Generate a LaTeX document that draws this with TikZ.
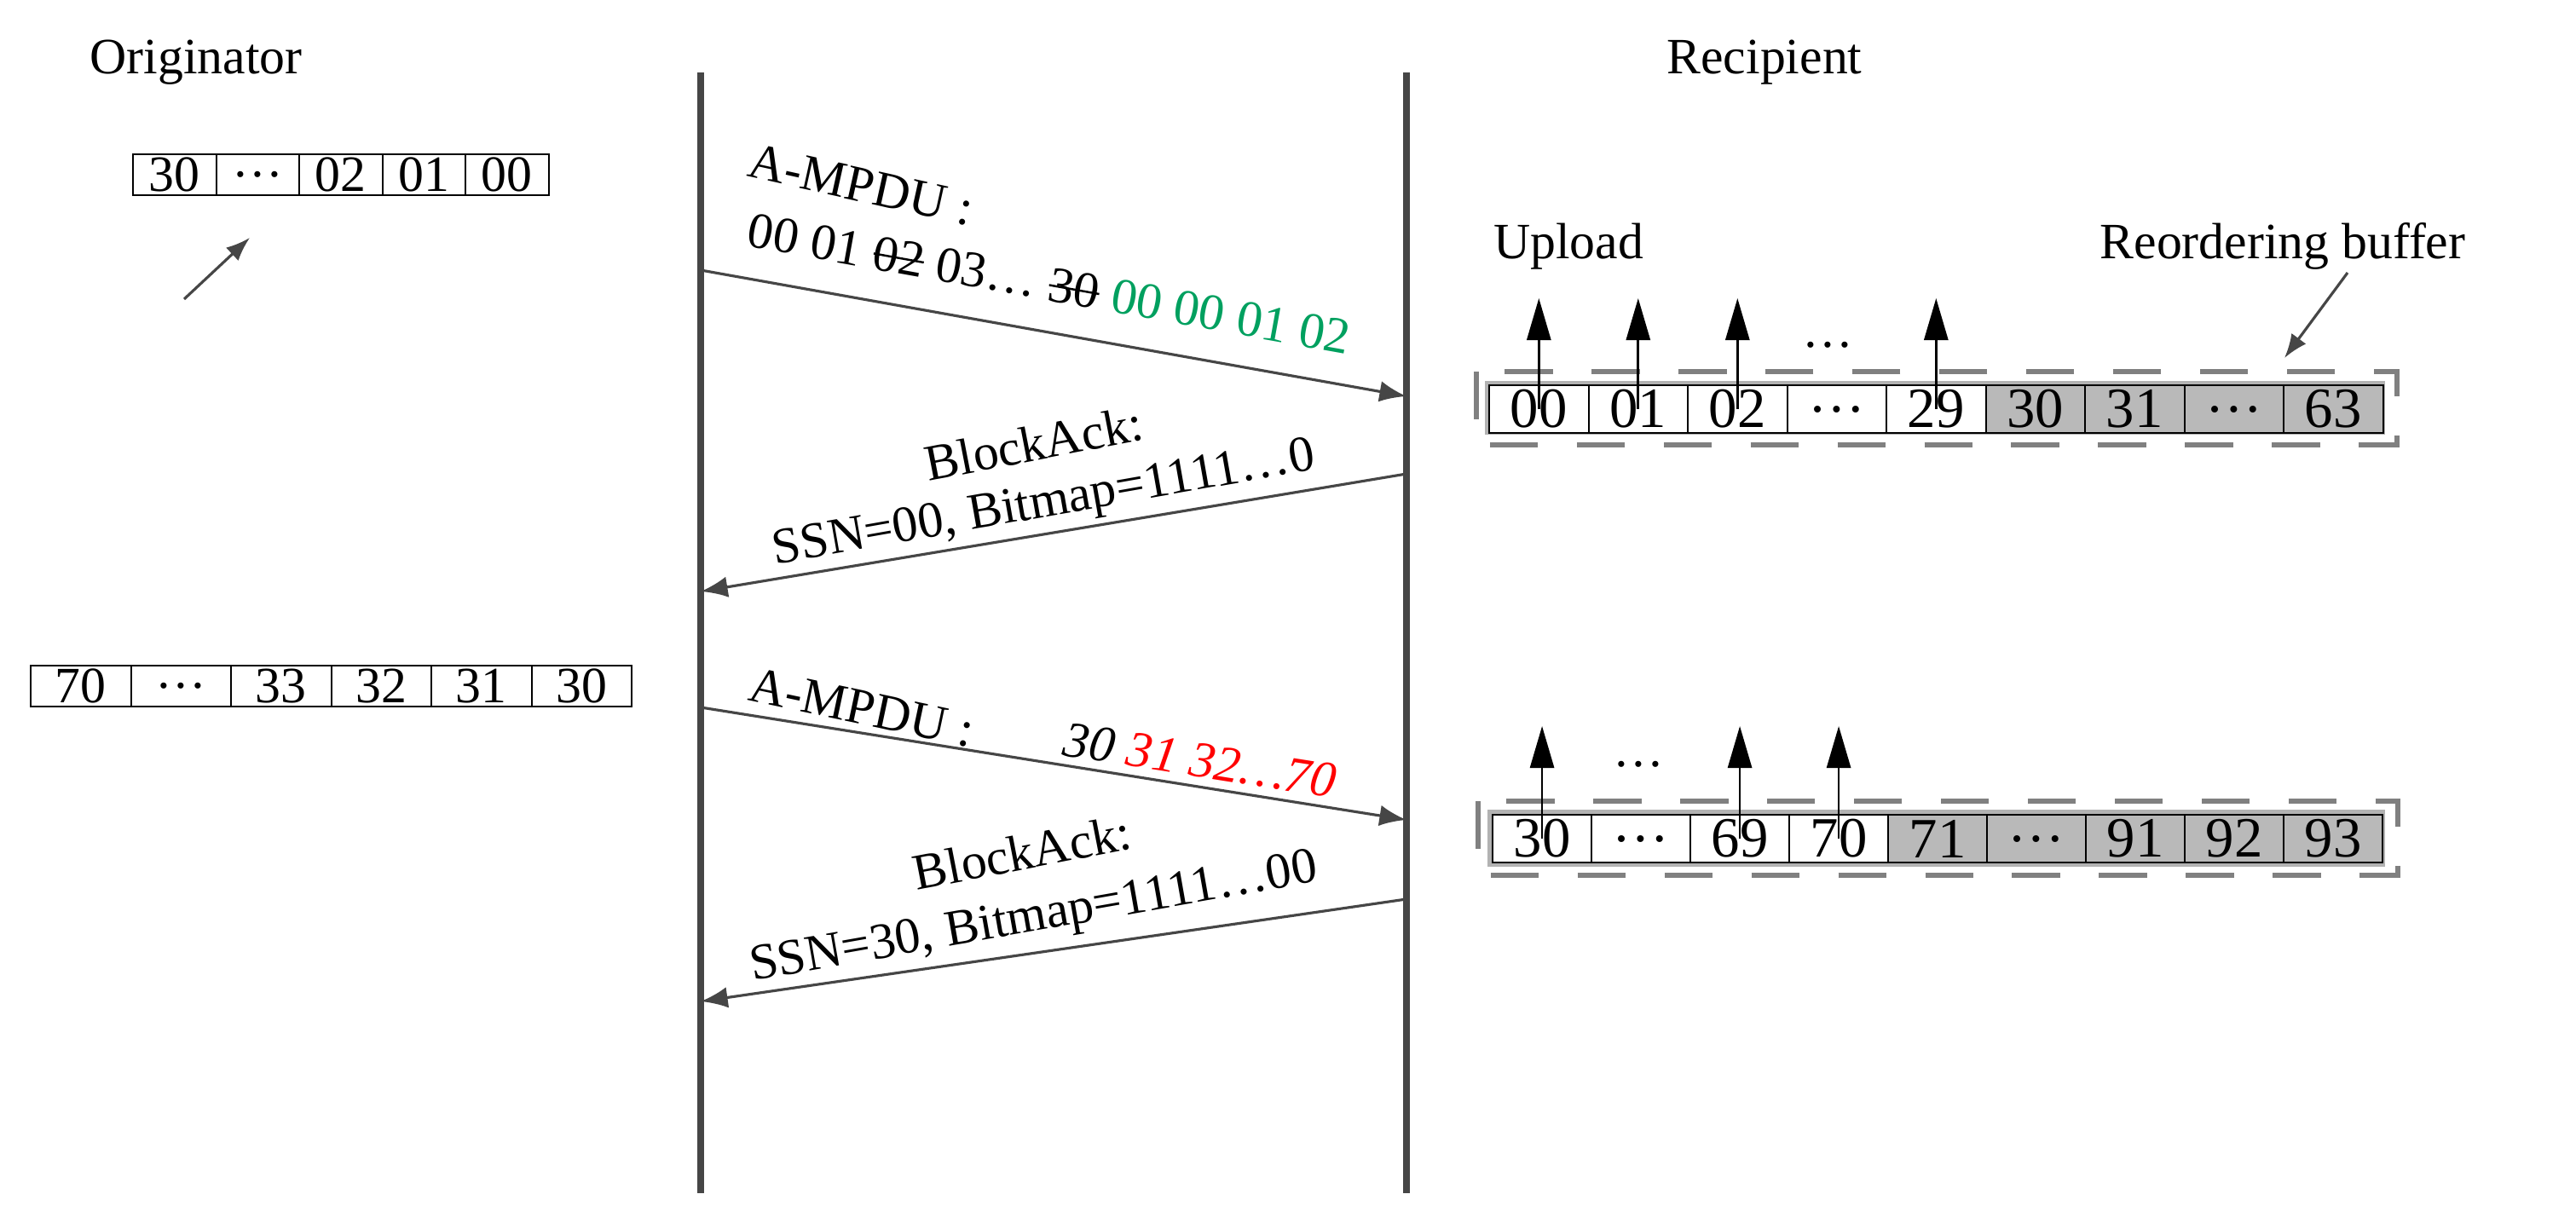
\documentclass[tikz,border=0pt]{standalone}
\usepackage{fontspec}
\setmainfont{Liberation Serif}
\usetikzlibrary{arrows.meta}
\definecolor{grn}{RGB}{0,160,95}
\definecolor{lin}{RGB}{70,70,70}
\newlength\mystkl
\newcommand\mystk[1]{\settowidth{\mystkl}{#1}\rlap{\rule[0.28em]{\mystkl}{0.7pt}}#1}
\begin{document}
\begin{tikzpicture}[x=1cm,y=1cm,
  every node/.style={font=\fontsize{17}{20}\selectfont},
  cell/.style={draw=black, line width=0.6pt, minimum height=0.48cm, inner sep=0pt, anchor=north west},
  rcell/.style={cell, minimum height=0.56cm, minimum width=1.165cm, font=\fontsize{19}{22}\selectfont},
  gcell/.style={rcell, fill=gray!55},
  wcell/.style={rcell, fill=white},
  dbox/.style={gray, line width=1.5pt, dash pattern=on 16pt off 13pt},
  life/.style={line width=2.2pt, draw=lin},
  msg/.style={line width=0.9pt, draw=lin, -{Latex[length=9pt,width=7pt]}},
  up/.style={line width=0.8pt, -{Triangle[length=14pt,width=8pt]}},
  lbl/.style={inner sep=0pt}]
\useasboundingbox (0,0) rectangle (30.22,14.35);
% headers
\node[lbl] (orig) at (2.3,13.62) {Originator};
\node[lbl] (reci) at (20.7,13.62) {Recipient};
% lifelines
\coordinate (lt) at (8.22,13.5); \coordinate (lb) at (8.22,0.35);
\coordinate (rt) at (16.5,13.5); \coordinate (rb) at (16.5,0.35);
\draw[life] (lt) -- (lb);
\draw[life] (rt) -- (rb);
% originator buffer 1
\foreach \t [count=\i from 0] in {30,\dots,02,01,00}
  \node[cell, minimum width=0.975cm] (oa\i) at (1.55+0.975*\i,12.55) {\t};
\coordinate (sa1) at (2.16,10.84); \coordinate (sa2) at (2.93,11.56);
\draw[line width=0.9pt, draw=lin, -{Latex[length=8pt,width=6pt]}] (sa1) -- (sa2);
% originator buffer 2
\foreach \t [count=\i from 0] in {70,\dots,33,32,31,30}
  \node[cell, minimum width=1.175cm] (ob\i) at (0.35+1.175*\i,6.55) {\t};
% messages
\coordinate (m1a) at (8.22,11.18); \coordinate (m1b) at (16.5,9.70);
\draw[msg] (m1a) -- (m1b);
\node[lbl, rotate=-12.5] (t1a) at (10.1,12.18) {A-MPDU :};
\node[lbl, rotate=-10.2] (t1b) at (12.31,11.02) {00 01 \mystk{02} 03\dots\ \mystk{30} \textcolor{grn}{00 00 01 02}};
\coordinate (m2a) at (16.5,8.79); \coordinate (m2b) at (8.22,7.41);
\draw[msg] (m2a) -- (m2b);
\node[lbl, rotate=11] (t2a) at (12.13,9.15) {BlockAck:};
\node[lbl, rotate=10] (t2b) at (12.25,8.42) {SSN=00, Bitmap=1111\dots0};
\coordinate (m3a) at (8.22,6.05); \coordinate (m3b) at (16.5,4.73);
\draw[msg] (m3a) -- (m3b);
\node[lbl, rotate=-12] (t3a) at (10.11,6.05) {A-MPDU :};
\node[lbl, rotate=-9] (t3b) at (14.08,5.43) {\itshape 30 \textcolor{red}{31 32\dots70}};
\coordinate (m4a) at (16.5,3.80); \coordinate (m4b) at (8.22,2.60);
\draw[msg] (m4a) -- (m4b);
\node[lbl, rotate=11] (t4a) at (11.99,4.35) {BlockAck:};
\node[lbl, rotate=10] (t4b) at (12.13,3.56) {SSN=30, Bitmap=1111\dots00};
% recipient buffer 1
\draw[dbox] (17.32,9.99) rectangle (28.12,9.13);
\fill[gray!60] (17.42,9.88) rectangle (27.98,9.25);
\foreach \t [count=\i from 0] in {00,01,02,\dots,29}
  \node[wcell] (ra\i) at (17.46+1.165*\i,9.84) {\t};
\foreach \t [count=\i from 5] in {30,31,\dots,63}
  \node[gcell] (ra\i) at (17.46+1.165*\i,9.84) {\t};
\foreach \i in {0,1,2,4}
  \draw[up] (ra\i.center) -- (ra\i.center |- 0,10.85) coordinate (ua\i);
\node[lbl] (dotsa) at (21.44,10.3) {\dots};
\node[lbl] (upl) at (18.4,11.46) {Upload};
\node[lbl] (rbuf) at (26.78,11.46) {Reordering buffer};
\coordinate (rba) at (27.54,11.15); \coordinate (rbb) at (26.8,10.15);
\draw[line width=0.9pt, draw=lin, -{Latex[length=8pt,width=6pt]}] (rba) -- (rbb);
% recipient buffer 2
\draw[dbox] (17.34,4.95) rectangle (28.13,4.08);
\fill[gray!60] (17.45,4.85) rectangle (27.98,4.18);
\foreach \t [count=\i from 0] in {30,\dots,69,70}
  \node[wcell, minimum width=1.16cm] (rb\i) at (17.50+1.16*\i,4.80) {\t};
\foreach \t [count=\i from 4] in {71,\dots,91,92,93}
  \node[gcell, minimum width=1.16cm] (rb\i) at (17.50+1.16*\i,4.80) {\t};
\foreach \i in {0,2,3}
  \draw[up] (rb\i.center) -- (rb\i.center |- 0,5.83) coordinate (ub\i);
\node[lbl] (dotsb) at (19.22,5.38) {\dots};
\end{tikzpicture}
\end{document}
